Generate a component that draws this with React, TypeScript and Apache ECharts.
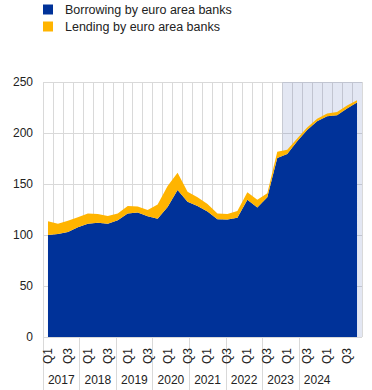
import React, { useEffect, useRef } from "react";
import * as echarts from "echarts";

const years = ["2017", "2018", "2019", "2020", "2021", "2022", "2023", "2024"];
const quarters = ["Q1", "Q2", "Q3", "Q4"];
const borrowing = [
  100, 101, 103, 107.5, 111, 112, 111, 114.5, 121, 122, 118.5, 116, 127.5, 144, 132.5, 128.5,
  123, 115.5, 115.3, 117, 134.5, 127, 137, 175.5, 179.5, 192, 203, 211.5, 216.5, 217.5, 224, 230,
];
const lending = [
  13.5, 10, 11, 9.8, 10, 8.5, 7.6, 6.5, 7.5, 6, 6, 14, 20.5, 17, 10, 8.5,
  7.5, 5.5, 5.2, 6.5, 7.5, 7.5, 4, 6, 4, 2.5, 2.5, 2.5, 2.5, 3, 3, 2,
];
const shadeStart = "2023";
const yTicks = [0, 50, 100, 150, 200, 250];

const FONT = 'Arial, "Liberation Sans", sans-serif';
const W = 372;
const H = 390;
const LEFT = 43;
const RIGHT = 10;
const TOP = 82;
const BOTTOM = 53;

export default function App() {
  const ref = useRef<HTMLDivElement>(null);
  useEffect(() => {
    if (!ref.current) return;
    const chart = echarts.init(ref.current, null, { renderer: "svg" });
    const categories: string[] = [];
    years.forEach((y) => quarters.forEach((q) => categories.push(y + " " + q)));
    const shadeIdx = years.indexOf(shadeStart) * quarters.length;
    const shade = categories.map((_, i) => (i >= shadeIdx ? yTicks[yTicks.length - 1] : null));
    const yearWidth = (W - LEFT - RIGHT) / years.length;
    const grey = "#d9d9d9";
    const textColor = "#222";

    chart.setOption({
      animation: false,
      textStyle: { fontFamily: FONT },
      legend: {
        data: ["Borrowing by euro area banks", "Lending by euro area banks"],
        orient: "vertical",
        left: LEFT,
        top: 3,
        padding: 0,
        itemWidth: 10,
        itemHeight: 10,
        itemGap: 4,
        icon: "rect",
        textStyle: { fontSize: 12.5, color: textColor, fontFamily: FONT, padding: [0, 0, 0, 7] },
      },
      grid: [
        { left: LEFT, right: RIGHT, top: TOP, bottom: BOTTOM },
        { left: LEFT, right: RIGHT - yearWidth, top: TOP, bottom: BOTTOM },
      ],
      xAxis: [
        {
          type: "category",
          gridIndex: 0,
          data: categories,
          boundaryGap: true,
          axisLine: { show: false },
          axisTick: { show: false },
          axisLabel: {
            interval: 0,
            rotate: 90,
            margin: 11,
            fontSize: 12,
            color: textColor,
            fontFamily: FONT,
            formatter: (v: string) => {
              const q = v.split(" ")[1];
              return q === "Q1" || q === "Q3" ? q : "";
            },
          },
          splitLine: { show: true, interval: 0, lineStyle: { color: grey, width: 1 } },
        },
        {
          type: "category",
          gridIndex: 1,
          data: [...years, ""],
          boundaryGap: true,
          position: "bottom",
          axisLine: { show: false },
          axisTick: {
            show: true,
            interval: (i: number) => i < years.length,
            length: 60,
            lineStyle: { color: grey, width: 1 },
          },
          axisLabel: { interval: 0, margin: 37, fontSize: 12, color: textColor, fontFamily: FONT },
          splitLine: { show: false },
        },
      ],
      yAxis: [
        {
          type: "value",
          gridIndex: 0,
          min: 0,
          max: 250,
          interval: 50,
          axisLine: { show: false },
          axisTick: { show: false },
          axisLabel: { fontSize: 12, color: textColor, margin: 10, fontFamily: FONT },
          splitLine: { show: true, lineStyle: { color: grey, width: 1 } },
        },
        { type: "value", gridIndex: 1, min: 0, max: 250, show: false },
      ],
      series: [
        {
          name: "shade",
          type: "bar",
          xAxisIndex: 0,
          yAxisIndex: 0,
          data: shade,
          barWidth: "100%",
          itemStyle: { color: "rgba(0, 40, 150, 0.11)" },
          silent: true,
        },
        {
          name: "Borrowing by euro area banks",
          type: "line",
          stack: "total",
          xAxisIndex: 0,
          yAxisIndex: 0,
          data: borrowing,
          showSymbol: false,
          lineStyle: { width: 0 },
          itemStyle: { color: "#003299" },
          areaStyle: { color: "#003299", opacity: 1 },
        },
        {
          name: "Lending by euro area banks",
          type: "line",
          stack: "total",
          xAxisIndex: 0,
          yAxisIndex: 0,
          data: lending,
          showSymbol: false,
          lineStyle: { width: 0 },
          itemStyle: { color: "#ffb400" },
          areaStyle: { color: "#ffb400", opacity: 1 },
        },
      ],
    });
    return () => chart.dispose();
  }, []);
  return (
    <div
      ref={ref}
      style={{ position: "fixed", left: 0, top: 0, width: W, height: H, background: "#fff" }}
    />
  );
}
